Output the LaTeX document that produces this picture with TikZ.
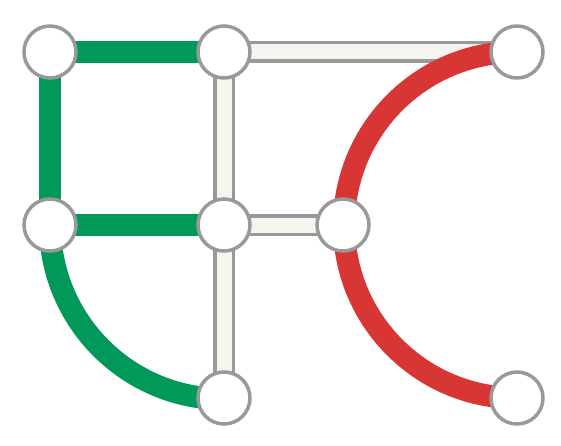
\documentclass[tikz,border=0pt]{standalone}
\definecolor{lgreen}{HTML}{00995A}
\definecolor{lred}{HTML}{D83535}
\definecolor{lgray}{HTML}{999999}
\definecolor{tfill}{HTML}{F5F5F0}
\tikzset{
  stn/.style={circle, draw=lgray, line width=3.5pt, fill=white, minimum size=52pt, inner sep=0pt},
  trackout/.style={draw=lgray, line width=22pt},
  trackin/.style={draw=tfill, line width=15pt},
  gline/.style={draw=lgreen, line width=22pt},
  rline/.style={draw=lred, line width=22pt},
}
\begin{document}
\begin{tikzpicture}[x=1pt,y=1pt]
\useasboundingbox (0,0) rectangle (561,445);
\coordinate (A) at (50,393);
\coordinate (B) at (224,393);
\coordinate (C) at (517,393);
\coordinate (D) at (50,220);
\coordinate (E) at (224,220);
\coordinate (F) at (343,220);
\coordinate (G) at (224,47);
\coordinate (H) at (517,47);
% neutral tracks
\foreach \p/\q in {B/C, B/E, E/F, E/G}{
  \draw[trackout] (\p) -- (\q);
}
\foreach \p/\q in {B/C, B/E, E/F, E/G}{
  \draw[trackin] (\p) -- (\q);
}
% green line
\draw[gline] (D) -- (A) -- (B);
\draw[gline] (D) -- (E);
\draw[gline] (D) arc[start angle=180, end angle=270, radius=174];
% red line
\draw[rline] (C) arc[start angle=90, end angle=270, radius=173];
% stations
\node[stn] (nA) at (A) {};
\node[stn] (nB) at (B) {};
\node[stn] (nC) at (C) {};
\node[stn] (nD) at (D) {};
\node[stn] (nE) at (E) {};
\node[stn] (nF) at (F) {};
\node[stn] (nG) at (G) {};
\node[stn] (nH) at (H) {};
\end{tikzpicture}
\end{document}
